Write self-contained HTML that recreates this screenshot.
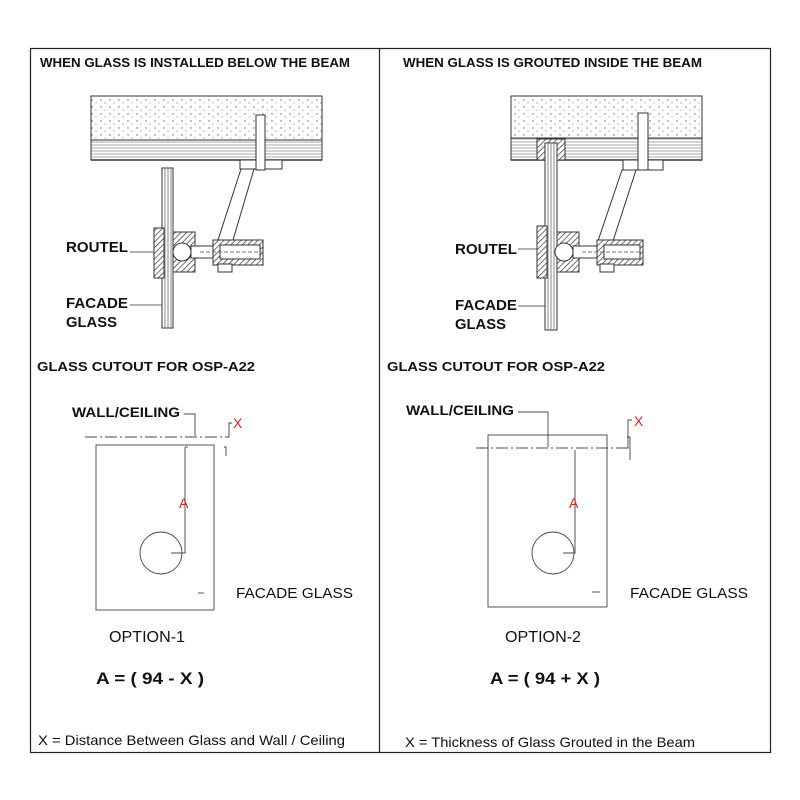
<!DOCTYPE html>
<html><head><meta charset="utf-8"><style>
html,body{margin:0;padding:0;background:#fff;}
svg{display:block;}
text{font-family:"Liberation Sans",Arial,sans-serif;}
</style></head><body>
<svg width="800" height="800" viewBox="0 0 800 800" xmlns="http://www.w3.org/2000/svg">
<defs>
<pattern id="dots" width="9" height="7" patternUnits="userSpaceOnUse">
<circle cx="2" cy="2" r="0.7" fill="#666"/><circle cx="6" cy="5" r="0.6" fill="#888"/>
</pattern>
<pattern id="band" width="4" height="3" patternUnits="userSpaceOnUse">
<rect width="4" height="3" fill="#fff"/><line x1="0" y1="1" x2="4" y2="1" stroke="#aaa" stroke-width="1"/>
</pattern>
<pattern id="hatch" width="4" height="4" patternUnits="userSpaceOnUse" patternTransform="rotate(45)">
<rect width="4" height="4" fill="#fff"/><line x1="0" y1="0" x2="0" y2="4" stroke="#333" stroke-width="1.4"/>
</pattern>
</defs>
<rect x="0" y="0" width="800" height="800" fill="#fff"/>
<rect x="30.5" y="48.5" width="740" height="704" fill="none" stroke="#222" stroke-width="1.2"/>
<line x1="379.5" y1="48" x2="379.5" y2="753" stroke="#222" stroke-width="1.2"/>

<g font-weight="bold" fill="#111">
<text x="40" y="67" font-size="12.5" textLength="310" lengthAdjust="spacingAndGlyphs">WHEN GLASS IS INSTALLED BELOW THE BEAM</text>
<text x="403" y="67" font-size="12.5" textLength="299" lengthAdjust="spacingAndGlyphs">WHEN GLASS IS GROUTED INSIDE THE BEAM</text>
<text x="37" y="371" font-size="13" textLength="218" lengthAdjust="spacingAndGlyphs">GLASS CUTOUT FOR OSP-A22</text>
<text x="387" y="371" font-size="13" textLength="218" lengthAdjust="spacingAndGlyphs">GLASS CUTOUT FOR OSP-A22</text>
</g>

<!-- LEFT DETAIL -->
<g stroke="#333" stroke-width="1" fill="none">
<rect x="91" y="96" width="231" height="44" fill="url(#dots)"/>
<rect x="91" y="140" width="231" height="20" fill="url(#band)"/>
<line x1="91" y1="160" x2="322" y2="160" stroke-width="1.4"/>
<rect x="240" y="160" width="42" height="9" fill="#fff"/>
<rect x="256" y="115" width="9" height="55" fill="#fff"/>
<polygon points="241,169 254,169 233,240 218,240" fill="#fff"/>
<rect x="162" y="168" width="11" height="160" fill="#fff"/>
<line x1="165" y1="168" x2="165" y2="328" stroke="#888"/>
<line x1="168" y1="168" x2="168" y2="328" stroke="#888"/>
<line x1="171" y1="168" x2="171" y2="328" stroke="#888"/>
<rect x="154" y="228" width="10" height="50" fill="url(#hatch)"/>
<rect x="173" y="232" width="22" height="40" fill="url(#hatch)"/>
<circle cx="182" cy="252" r="9" fill="#fff"/>
<rect x="191" y="246" width="22" height="12" fill="#fff"/>
<rect x="213" y="240" width="50" height="25" fill="url(#hatch)"/>
<rect x="220" y="245" width="40" height="14" fill="#fff"/>
<line x1="200" y1="252" x2="262" y2="252" stroke-dasharray="4 2" stroke="#777"/>
<rect x="218" y="264" width="14" height="8" fill="#fff"/>
</g>
<g stroke="#333" stroke-width="0.8">
<line x1="130" y1="252" x2="154" y2="252"/>
<line x1="130" y1="305" x2="162" y2="305"/>
</g>
<g font-weight="bold" font-size="14.5" fill="#111">
<text x="66" y="252" textLength="62" lengthAdjust="spacingAndGlyphs">ROUTEL</text>
<text x="66" y="308" textLength="62" lengthAdjust="spacingAndGlyphs">FACADE</text>
<text x="66" y="327" textLength="51" lengthAdjust="spacingAndGlyphs">GLASS</text>
</g>

<!-- RIGHT DETAIL -->
<g stroke="#333" stroke-width="1" fill="none">
<rect x="511" y="96" width="191" height="42" fill="url(#dots)"/>
<rect x="511" y="138" width="191" height="22" fill="url(#band)"/>
<line x1="511" y1="160" x2="702" y2="160" stroke-width="1.4"/>
<rect x="537" y="139" width="28" height="21" fill="url(#hatch)"/>
<rect x="623" y="160" width="40" height="10" fill="#fff"/>
<rect x="638" y="113" width="10" height="57" fill="#fff"/>
<polygon points="622,170 636,170 613,241 598,241" fill="#fff"/>
<rect x="545" y="143" width="12" height="187" fill="#fff"/>
<line x1="548" y1="143" x2="548" y2="330" stroke="#888"/>
<line x1="551" y1="143" x2="551" y2="330" stroke="#888"/>
<line x1="554" y1="143" x2="554" y2="330" stroke="#888"/>
<rect x="537" y="226" width="10" height="52" fill="url(#hatch)"/>
<rect x="557" y="232" width="22" height="40" fill="url(#hatch)"/>
<circle cx="564" cy="252" r="9" fill="#fff"/>
<rect x="573" y="246" width="24" height="12" fill="#fff"/>
<rect x="597" y="240" width="46" height="25" fill="url(#hatch)"/>
<rect x="604" y="245" width="36" height="14" fill="#fff"/>
<line x1="582" y1="252" x2="642" y2="252" stroke-dasharray="4 2" stroke="#777"/>
<rect x="600" y="264" width="14" height="8" fill="#fff"/>
</g>
<g stroke="#333" stroke-width="0.8">
<line x1="518" y1="249" x2="537" y2="249"/>
<line x1="518" y1="306" x2="545" y2="306"/>
</g>
<g font-weight="bold" font-size="14.5" fill="#111">
<text x="455" y="254" textLength="62" lengthAdjust="spacingAndGlyphs">ROUTEL</text>
<text x="455" y="310" textLength="62" lengthAdjust="spacingAndGlyphs">FACADE</text>
<text x="455" y="329" textLength="51" lengthAdjust="spacingAndGlyphs">GLASS</text>
</g>

<!-- LEFT CUTOUT -->
<g stroke="#444" stroke-width="0.9" fill="none">
<line x1="85" y1="437" x2="226" y2="437" stroke-dasharray="12 3 2 3"/>
<rect x="96" y="445" width="118" height="165"/>
<circle cx="161" cy="553" r="21"/>
<polyline points="185,447 185,553 171,553"/>
<polyline points="185,447 188,447"/>
<polyline points="184,414 195,414 195,436"/>
<polyline points="225,437 229,437 229,423 232,423"/>
<polyline points="224,447 226,447 226,456"/>
<line x1="198" y1="593" x2="204" y2="593"/>
</g>
<g fill="#111" font-size="14.5">
<text x="72" y="417" font-weight="bold" font-size="14" textLength="108" lengthAdjust="spacingAndGlyphs">WALL/CEILING</text>
<text x="236" y="598" textLength="117" lengthAdjust="spacingAndGlyphs">FACADE GLASS</text>
<text x="109" y="642" font-size="16" textLength="76" lengthAdjust="spacingAndGlyphs">OPTION-1</text>
<text x="96" y="684" font-size="17" font-weight="bold" textLength="108" lengthAdjust="spacingAndGlyphs">A = ( 94 - X )</text>
<text x="38" y="745" font-size="14" textLength="307" lengthAdjust="spacingAndGlyphs">X = Distance Between Glass and Wall / Ceiling</text>
</g>
<g fill="#d22" font-size="14"><text x="233" y="428">X</text><text x="179" y="508">A</text></g>

<!-- RIGHT CUTOUT -->
<g stroke="#444" stroke-width="0.9" fill="none">
<line x1="476" y1="448" x2="617" y2="448" stroke-dasharray="12 3 2 3"/>
<rect x="488" y="435" width="119" height="172"/>
<circle cx="553" cy="553" r="21"/>
<polyline points="575,450 575,553 563,553"/>
<polyline points="518,412 548,412 548,447"/>
<polyline points="617,448 628,448 628,420 632,420"/>
<polyline points="627,437 630,437 630,460"/>
<line x1="592" y1="592" x2="600" y2="592"/>
</g>
<g fill="#111" font-size="14.5">
<text x="406" y="415" font-weight="bold" font-size="14" textLength="108" lengthAdjust="spacingAndGlyphs">WALL/CEILING</text>
<text x="630" y="598" textLength="118" lengthAdjust="spacingAndGlyphs">FACADE GLASS</text>
<text x="505" y="642" font-size="16" textLength="76" lengthAdjust="spacingAndGlyphs">OPTION-2</text>
<text x="490" y="684" font-size="17" font-weight="bold" textLength="110" lengthAdjust="spacingAndGlyphs">A = ( 94 + X )</text>
<text x="405" y="747" font-size="14" textLength="290" lengthAdjust="spacingAndGlyphs">X = Thickness of Glass Grouted in the Beam</text>
</g>
<g fill="#d22" font-size="14"><text x="634" y="426">X</text><text x="569" y="508">A</text></g>
</svg>
</body></html>
